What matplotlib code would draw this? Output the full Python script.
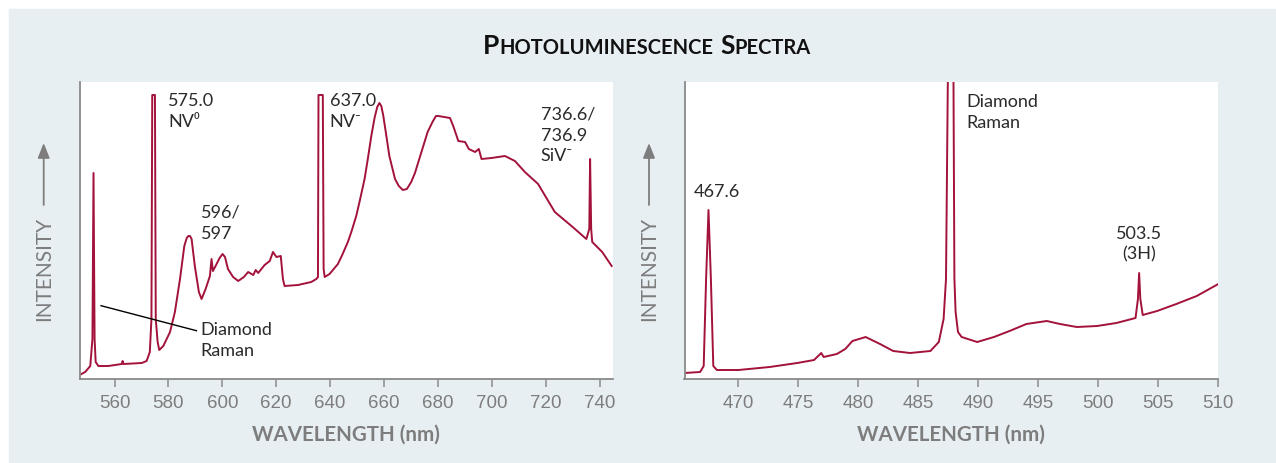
import matplotlib
matplotlib.use("Agg")
import matplotlib.pyplot as plt
from matplotlib.patches import Rectangle, FancyArrowPatch
from matplotlib.text import Annotation

# left spectrum (wavelength nm, intensity a.u.)
wl_left = [547.0, 549.1, 551.0, 551.8, 552.2, 552.6, 553.0, 554.0, 557.7, 562.7,
           563.0, 563.3, 570.1, 571.9, 573.1, 573.7, 574.0, 575.0, 575.3, 576.0,
           576.6, 578.1, 580.6, 582.4, 584.3, 585.9, 586.8, 587.4, 588.0, 588.6, 589.8, 591.3,
           592.3, 593.8, 595.4, 596.0, 596.5, 597.5, 599.0, 600.1, 601.0, 602.1, 604.0, 605.9,
           608.0, 609.6, 611.5, 612.4, 613.3, 615.7, 617.6, 618.8, 620.1, 621.7, 622.5, 623.1,
           628.1, 633.0, 634.9, 635.5, 635.7, 637.3, 637.6, 638.0, 639.8, 642.9, 644.5,
           646.6, 648.0, 649.7, 651.0, 652.8, 654.0, 655.3, 656.5, 657.5, 658.3, 659.0, 659.7,
           660.5, 662.0, 664.1, 665.5, 667.0, 668.5, 670.1, 671.5, 673.1, 676.2, 678.0, 679.3,
           680.2, 684.5, 685.7, 687.6, 690.1, 691.5, 693.8, 695.2, 696.2, 699.9, 704.9, 708.6,
           712.3, 717.2, 723.4, 729.6, 735.1, 736.2, 736.5, 736.9, 737.3, 741.0, 744.5]
int_left = [4, 7, 13, 40, 206, 40, 17, 13, 13, 15,
            18, 15, 16, 18, 27, 60, 284, 284, 60, 37,
            29, 33, 47, 67, 100, 133, 141, 143, 143, 140, 113, 87,
            80, 90, 103, 120, 108, 113, 121, 125, 122, 110, 102, 98,
            102, 107, 104, 109, 106, 114, 118, 127, 122, 123, 100, 93,
            94, 97, 100, 102, 284, 284, 110, 102, 105, 115, 124,
            137, 148, 163, 178, 200, 220, 243, 261, 272, 276, 273, 264,
            250, 223, 200, 193, 189, 190, 197, 206, 220, 247, 257, 263,
            263, 261, 253, 238, 237, 230, 227, 230, 220, 221, 223, 218,
            207, 195, 167, 153, 140, 150, 220, 150, 137, 127, 113]

# right spectrum
wl_right = [465.5, 466.8, 467.1, 467.3, 467.5, 467.7, 467.9, 468.2, 470.0, 472.6,
            474.9, 476.3, 476.9, 477.1, 478.2, 478.9, 479.5, 480.6, 481.8, 482.9,
            484.3, 486.0, 486.7, 487.1, 487.3, 487.5, 487.9, 488.0, 488.1, 488.3,
            488.6, 489.9, 491.3, 492.6, 494.0, 495.7, 496.8, 498.2, 499.9, 501.5,
            503.1, 503.3, 503.4, 503.5, 503.7, 504.9, 506.5, 508.2, 510.0]
int_right = [6, 7, 13, 100, 169, 100, 13, 9, 9, 12,
             16, 19, 26, 22, 25, 30, 38, 42, 35, 28,
             26, 28, 37, 60, 100, 360, 360, 100, 67, 47,
             42, 37, 42, 48, 55, 58, 55, 52, 53, 56,
             61, 80, 106, 80, 64, 68, 75, 83, 95]

left_ticks = [560, 580, 600, 620, 640, 660, 680, 700, 720, 740]
right_ticks = [470, 475, 480, 485, 490, 495, 500, 505, 510]

line_col = "#a3123a"
grey = "#7d7d7d"
txt_col = "#2a2a2a"
bg = "#e8eff2"

W, H = 1276, 464
fig = plt.figure(figsize=(W / 100, H / 100), dpi=100)
fig.patch.set_facecolor("white")
fig.patches.append(Rectangle((9 / W, 0), 1 - 9 / W, 1 - 10 / H,
                             transform=fig.transFigure, color=bg, zorder=-10))

ax1 = fig.add_axes([79.5 / W, (H - 380) / H, 533.5 / W, 297 / H])
ax2 = fig.add_axes([684.5 / W, (H - 380) / H, 533.8 / W, 297 / H])

for ax, wl, inten, lims, ticks in [(ax1, wl_left, int_left, (547, 745), left_ticks),
                                   (ax2, wl_right, int_right, (465.5, 510), right_ticks)]:
    ax.plot(wl, inten, color=line_col, lw=1.4)
    ax.set_xlim(*lims)
    ax.set_ylim(0, 297)
    ax.set_xticks(ticks)
    ax.set_yticks([])
    for s in ["top", "right"]:
        ax.spines[s].set_visible(False)
    for s in ["left", "bottom"]:
        ax.spines[s].set_color("#8a8a8a")
        ax.spines[s].set_linewidth(1.3)
    ax.tick_params(axis="x", direction="out", length=6, width=1.1, color="#8a8a8a",
                   labelcolor=grey, labelsize=13.5, pad=5)
    for lb in ax.get_xticklabels():
        lb.set_family("Liberation Sans")
    ax.set_xlabel("WAVELENGTH (nm)", fontsize=14.8, fontweight="bold", color=grey,
                  family="Lato", labelpad=9)

# y labels with arrows
for xc in [43.7, 649]:
    fig.text(xc / W, 1 - 269 / H, "INTENSITY", rotation=90, ha="center", va="center",
             fontsize=15, color=grey, family="Lato")
    fig.add_artist(FancyArrowPatch(
        (xc / W, 1 - 206 / H), (xc / W, 1 - 144 / H), transform=fig.transFigure,
        arrowstyle="-|>,head_length=0.45,head_width=0.18", mutation_scale=20,
        color=grey, lw=1.3, shrinkA=0, shrinkB=0))

# title in small caps
ty = 1 - 54 / H
fam = ["Lato", "DejaVu Sans"]
big, small = 19, 14.5
t1 = fig.text(483 / W, ty, "P", fontsize=big, fontweight="bold", family=fam, color="#111")
t2 = fig.add_artist(Annotation("HOTOLUMINESCENCE", xy=(1, ty),
                    xycoords=(t1, "figure fraction"), va="baseline", fontsize=small,
                    fontweight="bold", family=fam, color="#111"))
t3 = fig.add_artist(Annotation("S", xy=(1, ty), xycoords=(t2, "figure fraction"),
                    xytext=(5, 0), textcoords="offset points", va="baseline",
                    fontsize=big, fontweight="bold", family=fam, color="#111"))
fig.add_artist(Annotation("PECTRA", xy=(1, ty), xycoords=(t3, "figure fraction"),
               va="baseline", fontsize=small, fontweight="bold", family=fam, color="#111"))

# annotations
kw = dict(fontsize=13, color=txt_col, family=fam, va="top", linespacing=1.35)
ax1.text(579.8, 287, "575.0\nNV\u2070", **kw)
ax1.text(639.8, 287, "637.0\nNV\u207b", **kw)
ax1.text(592.0, 175, "596/\n597", **kw)
ax1.text(718.2, 273, "736.6/\n736.9\nSiV\u207b", **kw)
ax1.text(592.0, 58, "Diamond\nRaman", **kw)
ax1.plot([555.0, 590.4], [73.3, 48.3], color="black", lw=1.0)

ax2.text(466.25, 196, "467.6", **kw)
ax2.text(489.03, 286, "Diamond\nRaman", **kw)
ax2.text(503.4, 154, "503.5\n(3H)", ha="center", multialignment="center", **kw)

fig.savefig("out.png", dpi=100, facecolor=fig.get_facecolor())
